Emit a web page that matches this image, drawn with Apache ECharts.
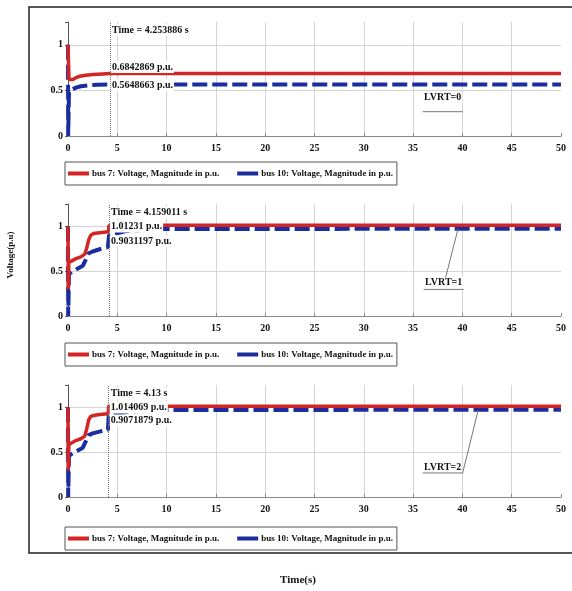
<!DOCTYPE html>
<html>
<head>
<meta charset="utf-8">
<script src="https://cdn.jsdelivr.net/npm/echarts@6/dist/echarts.min.js"></script>
<style>
  html, body { margin: 0; padding: 0; background: #fff; }
  #chart { width: 572px; height: 591px; }
</style>
</head>
<body>
<div id="chart"></div>
<script>
// 时间刻度
var xTicks = [0, 5, 10, 15, 20, 25, 30, 35, 40, 45, 50];
var seriesNames = ['bus 7: Voltage, Magnitude in p.u.', 'bus 10: Voltage, Magnitude in p.u.'];
var lvrtLabels = ['LVRT=0', 'LVRT=1', 'LVRT=2'];

// 光标读数
var cursorTimes = [4.253886, 4.159011, 4.13];
var cursorTimeText = ['4.253886', '4.159011', '4.13'];
var bus7Reading = ['0.6842869', '1.01231', '1.014069'];
var bus10Reading = ['0.5648663', '0.9031197', '0.9071879'];

// LVRT=0
var t7Lvrt0 = [0, 0.04, 0.1, 0.25, 0.5, 0.8, 1.2, 1.8, 2.5, 3.5, 4.25, 50];
var v7Lvrt0 = [1, 1, 0.62, 0.6, 0.62, 0.64, 0.655, 0.667, 0.675, 0.681, 0.684, 0.684];
var t10Lvrt0 = [0, 0.02, 0.06, 0.1, 0.4, 0.8, 1.3, 2, 3, 4.25, 50];
var v10Lvrt0 = [1, 0, 0, 0.48, 0.51, 0.53, 0.545, 0.555, 0.562, 0.565, 0.565];

// LVRT=1
var t7Lvrt1 = [0, 0.03, 0.08, 0.3, 0.8, 1.3, 1.7, 1.9, 2.1, 2.3, 2.6, 3.2, 4.1, 4.16, 50];
var v7Lvrt1 = [1, 0.3, 0.6, 0.61, 0.64, 0.66, 0.69, 0.76, 0.85, 0.9, 0.92, 0.93, 0.94, 1.012, 1.012];
var t10Lvrt1 = [0, 0.02, 0.06, 0.1, 0.5, 1, 1.5, 1.8, 2.1, 2.5, 3.2, 4.05, 4.16, 6, 9, 50];
var v10Lvrt1 = [1, 0, 0, 0.47, 0.5, 0.53, 0.56, 0.63, 0.7, 0.72, 0.745, 0.77, 0.903, 0.95, 0.97, 0.975];

// LVRT=2
var t7Lvrt2 = [0, 0.03, 0.08, 0.3, 0.8, 1.3, 1.7, 1.9, 2.1, 2.3, 2.6, 3.2, 4.07, 4.13, 50];
var v7Lvrt2 = [1, 0.3, 0.58, 0.6, 0.63, 0.65, 0.68, 0.76, 0.86, 0.9, 0.91, 0.92, 0.93, 1.014, 1.014];
var t10Lvrt2 = [0, 0.02, 0.06, 0.1, 0.5, 1, 1.5, 1.8, 2.1, 2.5, 3.2, 4.05, 4.13, 6, 9, 50];
var v10Lvrt2 = [1, 0, 0, 0.46, 0.49, 0.52, 0.55, 0.62, 0.69, 0.71, 0.73, 0.75, 0.907, 0.95, 0.97, 0.975];

var bus7Time = [t7Lvrt0, t7Lvrt1, t7Lvrt2];
var bus7Vals = [v7Lvrt0, v7Lvrt1, v7Lvrt2];
var bus10Time = [t10Lvrt0, t10Lvrt1, t10Lvrt2];
var bus10Vals = [v10Lvrt0, v10Lvrt1, v10Lvrt2];

function zip(a, b) {
    return a.map(function (x, i) { return [x, b[i]]; });
}

var RED = '#d42525';
var BLUE = '#1b2c9e';
var FONT = '"Liberation Serif", "Times New Roman", serif';

var chart = echarts.init(document.getElementById('chart'));

// 三个子图的位置
var gridTops = [22, 204, 385];
var gridHeights = [114, 112, 112];
var legendTops = [162, 343, 527];

var grids = [], xAxes = [], yAxes = [], legends = [], series = [];
for (var k = 0; k < 3; k++) {
    grids.push({ left: 68, right: 11, top: gridTops[k], height: gridHeights[k] });
    xAxes.push({
        type: 'value', gridIndex: k, min: 0, max: 50, interval: 5,
        axisLine: { show: true, onZero: false, lineStyle: { color: '#888', width: 1 } },
        axisTick: { inside: true, length: 3, lineStyle: { color: '#888' } },
        axisLabel: { color: '#111', fontFamily: FONT, fontWeight: 'bold', fontSize: 10, margin: 7 },
        splitLine: { show: true, showMinLine: false, showMaxLine: false, lineStyle: { color: '#d4d4d4', width: 1 } }
    });
    yAxes.push({
        type: 'value', gridIndex: k, min: 0, max: 1.25, interval: 0.5,
        axisLine: { show: true, lineStyle: { color: '#555', width: 1 } },
        axisTick: { show: true, length: 3, lineStyle: { color: '#555' } },
        axisLabel: {
            color: '#111', fontFamily: FONT, fontWeight: 'bold', fontSize: 10, margin: 5,
            formatter: function (v) { return v > 1.01 ? '' : String(v); }
        },
        splitLine: { show: true, showMinLine: false, showMaxLine: false, lineStyle: { color: '#d4d4d4', width: 1 } }
    });
    legends.push({
        left: 65, top: legendTops[k],
        data: seriesNames.slice(),
        icon: 'rect', itemWidth: 21, itemHeight: 4, itemGap: 18,
        padding: [7, 4, 7, 3],
        borderColor: '#555', borderWidth: 1, backgroundColor: '#fff',
        selectedMode: false,
        textStyle: { color: '#111', fontFamily: FONT, fontWeight: 'bold', fontSize: 9, padding: [0, 0, 0, -2] }
    });
    series.push({
        name: seriesNames[1], type: 'line', xAxisIndex: k, yAxisIndex: k,
        data: zip(bus10Time[k], bus10Vals[k]), showSymbol: false, symbol: 'none',
        itemStyle: { color: BLUE },
        lineStyle: { color: BLUE, width: 4, type: [15, 5] },
        z: 2
    });
    series.push({
        name: seriesNames[0], type: 'line', xAxisIndex: k, yAxisIndex: k,
        data: zip(bus7Time[k], bus7Vals[k]), showSymbol: false, symbol: 'none',
        itemStyle: { color: RED },
        lineStyle: { color: RED, width: 3.5 },
        z: 3,
        markLine: {
            silent: true, symbol: 'none', animation: false,
            label: { show: false },
            lineStyle: { color: '#777', type: 'dotted', width: 1 },
            data: [{ xAxis: cursorTimes[k] }]
        }
    });
}

var option = {
    animation: false,
    backgroundColor: '#fff',
    grid: grids,
    xAxis: xAxes,
    yAxis: yAxes,
    legend: legends,
    series: series
};
chart.setOption(option);

// 注释文字和外框
function txt(text, x, y, opts) {
    opts = opts || {};
    return {
        type: 'text', z: 100,
        x: x, y: y,
        rotation: opts.rotation || 0,
        style: {
            text: text, x: 0, y: 0,
            font: 'bold ' + (opts.size || 10) + 'px ' + FONT,
            fill: opts.fill || '#111',
            align: opts.align || 'left', textAlign: opts.align || 'left',
            verticalAlign: 'middle', textVerticalAlign: 'middle',
            backgroundColor: opts.bg, padding: opts.bg ? [1, 1, 1, 1] : 0
        }
    };
}
function seg(x1, y1, x2, y2) {
    return {
        type: 'line', z: 100,
        shape: { x1: x1, y1: y1, x2: x2, y2: y2 },
        style: { stroke: '#777', lineWidth: 1 }
    };
}

// 标注在数据坐标里的位置
var timeLabelY = [1.16, 1.155, 1.155];
var bus7LabelY = [0.757, 1.0, 1.0];
var bus10LabelY = [0.56, 0.835, 0.855];
var lvrtPos = [[38.0, 0.42], [38.1, 0.375], [38.0, 0.335]];
var underlineGap = [14, 7, 6];
var leaderTop = [null, [39.55, 0.97], [41.6, 0.97]];

var graphics = [];
graphics.push({
    type: 'rect', z: 90,
    shape: { x: 29, y: 7, width: 548, height: 546 },
    style: { fill: 'none', stroke: '#222', lineWidth: 1.5 }
});
for (var k = 0; k < 3; k++) {
    var gi = { gridIndex: k };
    var p = chart.convertToPixel(gi, [cursorTimes[k], timeLabelY[k]]);
    var x0 = p[0] + 1;
    graphics.push(txt('Time = ' + cursorTimeText[k] + ' s', x0, p[1], { bg: '#fff' }));
    var p7 = chart.convertToPixel(gi, [cursorTimes[k], bus7LabelY[k]]);
    graphics.push(txt(bus7Reading[k] + ' p.u.', x0, p7[1], { bg: '#fff' }));
    var p10 = chart.convertToPixel(gi, [cursorTimes[k], bus10LabelY[k]]);
    graphics.push(txt(bus10Reading[k] + ' p.u.', x0, p10[1], { bg: '#fff' }));

    var pl = chart.convertToPixel(gi, lvrtPos[k]);
    graphics.push(txt(lvrtLabels[k], pl[0], pl[1], { align: 'center', bg: '#fff' }));
    var uy = pl[1] + underlineGap[k];
    graphics.push(seg(pl[0] - 20, uy, pl[0] + 20, uy));
    if (leaderTop[k]) {
        var pt = chart.convertToPixel(gi, leaderTop[k]);
        var sx = k === 1 ? pl[0] + 2 : pl[0] + 20;
        var sy = k === 1 ? pl[1] - 5 : uy;
        graphics.push(seg(sx, sy, pt[0], pt[1]));
    }
}
graphics.push(txt('Voltage(p.u)', 11, 255, { align: 'center', size: 9, rotation: Math.PI / 2 }));
graphics.push(txt('Time(s)', 298, 580, { align: 'center', size: 11 }));

chart.setOption({ graphic: graphics });

window.addEventListener('resize', function () {
    chart.resize();
});
</script>
</body>
</html>
